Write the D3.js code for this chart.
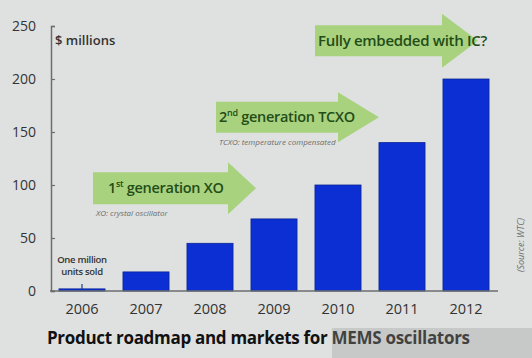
<!DOCTYPE html>
<html>
<head>
<meta charset="utf-8">
<script src="https://cdn.jsdelivr.net/npm/d3@7"></script>
<style>
  html, body { margin: 0; padding: 0; background: #dfe1e0; }
  svg { display: block; font-family: "Open Sans", "Noto Sans", sans-serif; }
</style>
</head>
<body>
<script>
(function(){
'use strict';

var years = ['2006', '2007', '2008', '2009', '2010', '2011', '2012'];
var sales = [2, 18, 45, 68, 100, 140, 200];
var yTicks = [0, 50, 100, 150, 200, 250];
var stages = [
  {pre: '1', sup: 'st', post: ' generation XO', note: 'XO: crystal oscillator'},
  {pre: '2', sup: 'nd', post: ' generation TCXO', note: 'TCXO: temperature compensated'},
  {pre: '', sup: '', post: 'Fully embedded with IC?', note: ''}
];

var width = 532, height = 358;
var svg = d3.select('body').append('svg')
  .attr('width', width)
  .attr('height', height);

svg.append('rect').attr('width', width).attr('height', height).attr('fill', '#dfe1e0');

var x = d3.scaleBand().domain(years).range([50, 498]).paddingInner(0.28).paddingOuter(0.14);
var y = d3.scaleLinear().domain([0, 250]).range([291, 26]);

// arrows (drawn first, bars sit on top)
var arrowLayout = [
  {x0: 93, x1: 228, tip: 256, v: 97, bh: 32, hh: 52},
  {x0: 216, x1: 338, tip: 379, v: 164, bh: 31, hh: 50},
  {x0: 315, x1: 442, tip: 478, v: 236, bh: 31, hh: 54}
];

var arrows = svg.append('g');
arrowLayout.forEach(function(a, i){
  var cy = y(a.v);
  var pts = [
    [a.x0, cy - a.bh/2], [a.x1, cy - a.bh/2], [a.x1, cy - a.hh/2], [a.tip, cy],
    [a.x1, cy + a.hh/2], [a.x1, cy + a.bh/2], [a.x0, cy + a.bh/2]
  ];
  arrows.append('path')
    .attr('d', d3.line()(pts) + 'Z')
    .attr('fill', '#a9d27f');

  var s = stages[i];
  var t = arrows.append('text')
    .attr('x', i === 0 ? a.x0 + 15 : a.x0 + 3)
    .attr('y', cy + 5)
    .attr('fill', '#234d17')
    .attr('font-size', i === 2 ? 15 : 14.5)
    .attr('font-weight', 600)
    .attr('letter-spacing', -0.3);
  if (s.pre) {
    t.append('tspan').text(s.pre);
    t.append('tspan').attr('font-size', 9).attr('dy', -6).text(s.sup);
    t.append('tspan').attr('dy', 6).text(s.post);
  } else {
    t.text(s.post);
  }
  if (s.note) {
    arrows.append('text')
      .attr('x', a.x0 + 3)
      .attr('y', cy + a.bh/2 + 12)
      .attr('fill', '#6a6d6c')
      .attr('font-size', 8)
      .attr('font-style', 'italic')
      .text(s.note);
  }
});

// bars
svg.append('g').selectAll('rect')
  .data(sales)
  .enter()
  .append('rect')
  .attr('x', function(d, i){ return x(years[i]); })
  .attr('y', function(d){ return y(d); })
  .attr('width', x.bandwidth())
  .attr('height', function(d){ return y(0) - y(d); })
  .attr('fill', '#0b2fd2')
  .attr('stroke', '#0a2596')
  .attr('stroke-width', 0.8);

// little marker on the 2006 bar
svg.append('line')
  .attr('x1', x('2006') + x.bandwidth()/2).attr('x2', x('2006') + x.bandwidth()/2)
  .attr('y1', y(sales[0]) - 5).attr('y2', y(sales[0]))
  .attr('stroke', '#1f3f8a').attr('stroke-width', 1.2);

// axes
var yAxis = svg.append('g')
  .attr('transform', 'translate(51,0)')
  .call(d3.axisRight(y).tickValues(yTicks).tickSize(4).tickFormat(''));
yAxis.select('.domain').attr('stroke', '#6b6e6d').attr('stroke-width', 1.5);
yAxis.selectAll('.tick line').attr('stroke', '#6b6e6d').attr('stroke-width', 1.2);

svg.append('g').selectAll('text')
  .data(yTicks)
  .enter()
  .append('text')
  .attr('x', 36)
  .attr('y', function(d){ return y(d) + 5; })
  .attr('text-anchor', 'end')
  .attr('font-size', 14)
  .attr('fill', '#333')
  .text(function(d){ return d; });

svg.append('line')
  .attr('x1', 50).attr('x2', 498)
  .attr('y1', y(0)).attr('y2', y(0))
  .attr('stroke', '#6b6e6d').attr('stroke-width', 1.5);

svg.append('g').selectAll('text')
  .data(years)
  .enter()
  .append('text')
  .attr('x', function(d){ return x(d) + x.bandwidth()/2; })
  .attr('y', 314)
  .attr('text-anchor', 'middle')
  .attr('font-size', 14.5)
  .attr('fill', '#333')
  .text(function(d){ return d; });

// labels
svg.append('text')
  .attr('x', 55).attr('y', 45)
  .attr('font-size', 13).attr('font-weight', 600).attr('fill', '#333')
  .text('$ millions');

var cx06 = x('2006') + x.bandwidth()/2;
svg.append('text')
  .attr('x', cx06).attr('y', 263)
  .attr('text-anchor', 'middle')
  .attr('font-size', 9.5).attr('font-weight', 600).attr('fill', '#333')
  .attr('letter-spacing', -0.3)
  .text('One million');
svg.append('text')
  .attr('x', cx06).attr('y', 275)
  .attr('text-anchor', 'middle')
  .attr('font-size', 9.5).attr('font-weight', 600).attr('fill', '#333')
  .attr('letter-spacing', -0.3)
  .text('units sold');

svg.append('text')
  .attr('transform', 'translate(524,245) rotate(-90)')
  .attr('text-anchor', 'middle')
  .attr('font-size', 9).attr('font-style', 'italic').attr('fill', '#6a6d6c')
  .text('(Source: WTC)');

svg.append('text')
  .attr('x', 47).attr('y', 344)
  .attr('font-size', 17).attr('font-weight', 700).attr('fill', '#111')
  .attr('letter-spacing', -0.3)
  .text('Product roadmap and markets for MEMS oscillators');

// watermark strip
svg.append('rect')
  .attr('x', 332).attr('y', 328).attr('width', 200).attr('height', 30)
  .attr('fill', '#9a9c9b').attr('opacity', 0.35);

})();
</script>
</body>
</html>
